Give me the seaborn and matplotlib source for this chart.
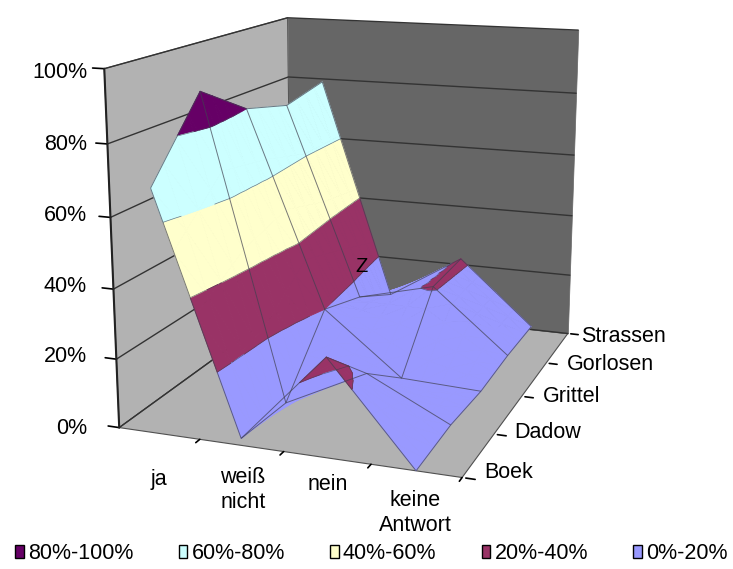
import numpy as np
import matplotlib
matplotlib.use("Agg")
import matplotlib.pyplot as plt
import seaborn as sns
from matplotlib.patches import Patch
from mpl_toolkits.mplot3d.art3d import Poly3DCollection, Line3DCollection

answers = ["ja", "weiß\nnicht", "nein", "keine\nAntwort"]
villages = ["Boek", "Dadow", "Grittel", "Gorlosen", "Strassen"]
pct_ticks = [0, 20, 40, 60, 80, 100]

# one row per village, one value per answer
boek = [69, 2, 28, 0]
dadow = [90, 1, 13, 1]
grittel = [80, 20, 1, 0]
gorlosen = [76, 15, 21, 1]
strassen = [79, 7, 22, 1]

band_labels = ["80%-100%", "60%-80%", "40%-60%", "20%-40%", "0%-20%"]
band_colors = ["#660066", "#CCFFFF", "#FFFFCC", "#993366", "#9999FF"]
band_edges = [(80, 100), (60, 80), (40, 60), (20, 40), (0, 20)]

# where the labels sit, in pixels from the top left of the picture
pct_label_px = [(87, 428), (87, 357), (87, 287), (87, 216), (87, 144), (87, 72)]
answer_label_px = [(159, 480), (243, 490), (328, 484), (415, 513)]
village_label_px = [(484, 473), (514, 433), (543, 397), (567, 365), (581, 336)]

sns.set_theme(style="white", font="Liberation Sans")
palette = sns.color_palette(band_colors)
fsize = 15.5
ink = "black"
W, H = 733, 569


def clip(poly, level, keep_above):
    out = []
    for i in range(len(poly)):
        a, b = poly[i], poly[(i + 1) % len(poly)]
        ina = a[2] >= level if keep_above else a[2] <= level
        inb = b[2] >= level if keep_above else b[2] <= level
        if ina:
            out.append(a)
        if ina != inb:
            t = (level - a[2]) / (b[2] - a[2])
            out.append(a + t * (b - a))
    return out


def to_box(p):
    return np.array([p[0], p[1], p[2] / 100.0])


def label(px, text, ha="center"):
    fig.text(px[0] / W, 1 - px[1] / H, text, ha=ha, va="center", fontsize=fsize, color=ink, linespacing=1.3)


values = np.array([boek, dadow, grittel, gorlosen, strassen], dtype=float)
xs = (np.arange(len(answers)) + 0.5) / len(answers)
ys = np.arange(len(villages)) / (len(villages) - 1)

polys, faces = [], []
contours = []
n_sub = 4
for r in range(len(ys) - 1):
    for c in range(len(xs) - 1):
        q = values[r:r + 2, c:c + 2]
        for i in range(n_sub):
            for j in range(n_sub):
                corners = []
                for (u, v) in [(i, j), (i + 1, j), (i + 1, j + 1), (i, j + 1)]:
                    u, v = u / n_sub, v / n_sub
                    z = (q[0, 0] * (1 - u) * (1 - v) + q[0, 1] * u * (1 - v)
                         + q[1, 0] * (1 - u) * v + q[1, 1] * u * v)
                    corners.append(np.array([xs[c] + u * (xs[c + 1] - xs[c]),
                                             ys[r] + v * (ys[r + 1] - ys[r]), z]))
                for tri in ([corners[0], corners[1], corners[2]], [corners[0], corners[2], corners[3]]):
                    for (lo, hi), col in zip(band_edges, palette):
                        piece = clip(clip(tri, lo, True), hi, False)
                        if len(piece) >= 3:
                            polys.append([to_box(p) for p in piece])
                            faces.append(col)
                    for level in (20, 40, 60, 80):
                        cross = []
                        for k in range(3):
                            a, b = tri[k], tri[(k + 1) % 3]
                            if (a[2] - level) * (b[2] - level) < 0:
                                cross.append(to_box(a + (level - a[2]) / (b[2] - a[2]) * (b - a)))
                        if len(cross) == 2:
                            contours.append(cross)

grid_lines = []
for r in range(len(ys)):
    grid_lines.append([[xs[c], ys[r], values[r, c] / 100] for c in range(len(xs))])
for c in range(len(xs)):
    grid_lines.append([[xs[c], ys[r], values[r, c] / 100] for r in range(len(ys))])

fig = plt.figure(figsize=(7.33, 5.69), dpi=100)
side = 1000
ax = fig.add_axes([(349.5 - side / 2) / W, (339 - side / 2) / H, side / W, side / H], projection="3d",
                  computed_zorder=False)
ax.set_proj_type("persp", focal_length=0.28)
ax.view_init(elev=14, azim=-70)
ax.set_box_aspect((0.8, 1, 0.81), zoom=0.615)
ax.set_xlim(0, 1, view_margin=0)
ax.set_ylim(0, 1, view_margin=0)
ax.set_zlim(0, 1, view_margin=0)
ax.set_axis_off()

# walls and floor
wall_left = [[0, 0, 0], [0, 1, 0], [0, 1, 1], [0, 0, 1]]
wall_back = [[0, 1, 0], [1, 1, 0], [1, 1, 1], [0, 1, 1]]
floor = [[0, 0, 0], [1, 0, 0], [1, 1, 0], [0, 1, 0]]
ax.add_collection3d(Poly3DCollection([wall_left, floor], facecolors="#B2B2B2", edgecolors="#505050", linewidths=0.8, zorder=1), autolim=False)
ax.add_collection3d(Poly3DCollection([wall_back], facecolors="#666666", edgecolors="#666666", linewidths=0.5, zorder=1), autolim=False)
for p in pct_ticks:
    z = p / 100
    ax.plot([0, 0, 1], [0, 1, 1], [z, z, z], color="#333333", lw=1.0, zorder=2)
    ax.plot([-0.035, 0], [0, 0], [z, z], color=ink, lw=1.2, zorder=2)
ax.plot([0, 0], [0, 0], [0, 1], color="#222222", lw=1.5, zorder=2)

# surface
surf = Poly3DCollection(polys, facecolors=faces, edgecolors=faces, linewidths=0.6, zorder=3)
ax.add_collection3d(surf, autolim=False)
ax.add_collection3d(Line3DCollection(contours, colors="#404050", linewidths=0.5, alpha=0.7, zorder=4), autolim=False)
ax.add_collection3d(Line3DCollection(grid_lines, colors="#404050", linewidths=0.7, alpha=0.7, zorder=4), autolim=False)

# ticks and labels
for i in range(1, len(answers) + 1):
    t = i / len(answers)
    ax.plot([t, t], [0, -0.02], [0, 0], color=ink, lw=1.2, zorder=2)
for y in ys:
    ax.plot([1.01, 1.035], [y, y], [0, 0], color=ink, lw=1.2, zorder=2)
for px, p in zip(pct_label_px, pct_ticks):
    label(px, f"{p}%", ha="right")
for px, name in zip(answer_label_px, answers):
    label(px, name)
for px, name in zip(village_label_px, villages):
    label(px, name, ha="left")
fig.text(362 / W, 1 - 266 / H, "Z", ha="center", va="center", fontsize=fsize - 1, color=ink, zorder=10)

handles = [Patch(facecolor=col, edgecolor=ink, linewidth=1.0) for col in palette]
fig.legend(handles, band_labels, loc="lower left", bbox_to_anchor=(15 / W, 5 / H), ncol=5, frameon=False, fontsize=fsize,
           labelcolor=ink, handlelength=0.4, handleheight=0.55, handletextpad=0.2, columnspacing=2.1, borderaxespad=0, borderpad=0)

fig.savefig("out.png", dpi=100, facecolor="white")
